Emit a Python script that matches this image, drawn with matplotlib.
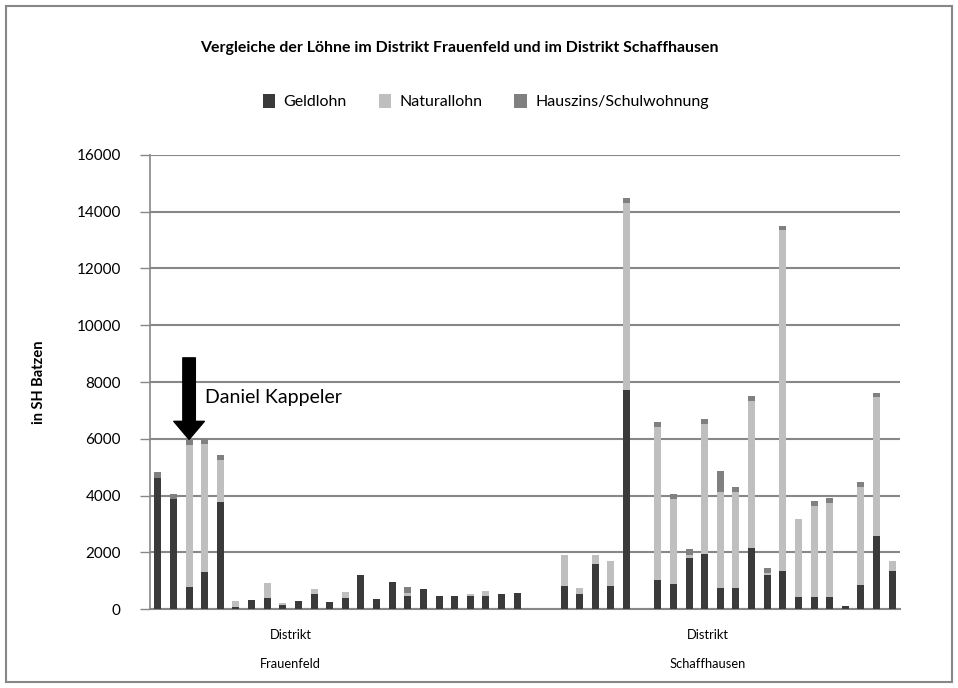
import matplotlib.pyplot as plt
import numpy as np

plt.rcParams['font.family'] = ['Lato', 'DejaVu Sans']

# Werte in SH Batzen
geld_ff = [4630, 3890, 800, 1310, 3790, 70, 315, 400, 160, 290, 530, 270,
           410, 1210, 365, 950, 480, 705, 480, 480, 480, 460, 530, 585]
natur_ff = [0, 0, 4980, 4520, 1470, 230, 0, 525, 60, 0, 195, 0,
            190, 0, 0, 0, 105, 0, 0, 0, 50, 195, 0, 0]
haus_ff = [200, 180, 180, 160, 170, 0, 0, 0, 0, 0, 0, 0,
           0, 0, 0, 0, 190, 0, 0, 0, 0, 0, 0, 0]

geld_sh = [830, 550, 1605, 830, 7710, 1030, 890, 1795, 1960, 760, 760,
           2170, 1195, 1360, 445, 445, 420, 130, 855, 2570, 1360]
natur_sh = [1080, 190, 305, 870, 6600, 5400, 2990, 115, 4560, 3380, 3380,
            5160, 70, 11990, 2745, 3205, 3330, 0, 3435, 4890, 340]
haus_sh = [0, 0, 0, 0, 180, 170, 180, 200, 180, 730, 160,
           170, 175, 150, 0, 170, 180, 0, 180, 160, 0]

series = ['Geldlohn', 'Naturallohn', 'Hauszins/Schulwohnung']
colors = ['#3a3a3a', '#bfbfbf', '#808080']
districts = ['Distrikt\nFrauenfeld', 'Distrikt\nSchaffhausen']

# Positionen: Frauenfeld 0-23, Luecke, Schaffhausen 26-30 und 32-47
x_ff = np.arange(24)
x_sh = np.concatenate([np.arange(26, 31), np.arange(32, 48)])
x = np.concatenate([x_ff, x_sh])
geld = np.array(geld_ff + geld_sh)
natur = np.array(natur_ff + natur_sh)
haus = np.array(haus_ff + haus_sh)

fig = plt.figure(figsize=(9.58, 6.88), dpi=100)
ax = fig.add_axes([0.1566, 0.1144, 0.7829, 0.6607])

w = 0.45
ax.bar(x, geld, w, color=colors[0], label=series[0], zorder=3)
ax.bar(x, natur, w, bottom=geld, color=colors[1], label=series[1], zorder=3)
ax.bar(x, haus, w, bottom=geld + natur, color=colors[2], label=series[2], zorder=3)

ax.set_xlim(-0.5, 47.5)
ax.set_ylim(0, 16000)
ax.set_yticks(np.arange(0, 16001, 2000))
ax.yaxis.grid(True, color='#878787', linewidth=1.5)
ax.set_axisbelow(True)
for s in ['top', 'right']:
    ax.spines[s].set_visible(False)
ax.spines['left'].set_color('#878787')
ax.spines['bottom'].set_color('#878787')
ax.spines['left'].set_linewidth(1.2)
ax.spines['bottom'].set_linewidth(1.5)
ax.tick_params(axis='y', colors='#878787', length=7, width=1, labelcolor='black',
               labelsize=11, pad=14)

ax.set_xticks([8.5, 35.2])
ax.set_xticklabels(districts, fontsize=9.3, linespacing=2.7)
ax.tick_params(axis='x', length=0, pad=14)

ax.set_ylabel('in SH Batzen', fontsize=10.5, fontweight='bold', labelpad=22)

fig.suptitle('Vergleiche der Löhne im Distrikt Frauenfeld und im Distrikt Schaffhausen',
             fontsize=11.4, fontweight='bold', x=0.479, y=0.94)
fig.legend(loc='center', bbox_to_anchor=(0.507, 0.852), ncol=3, frameon=False,
           fontsize=11.5, handlelength=0.8, handleheight=0.9, columnspacing=2.0,
           handletextpad=0.5)

# Pfeil auf Daniel Kappeler
ax.annotate('', xy=(2, 5980), xytext=(2, 8850),
            arrowprops=dict(width=9, headwidth=22, headlength=13, color='black'),
            zorder=5)
ax.text(3.0, 7450, 'Daniel Kappeler', fontsize=14, va='center', ha='left')

# Rahmen um die Grafik
fig.patches.append(plt.Rectangle((0.006, 0.008), 0.988, 0.984, transform=fig.transFigure,
                                 fill=False, edgecolor='#878787', linewidth=1.5))

fig.savefig('out.png', dpi=100)
